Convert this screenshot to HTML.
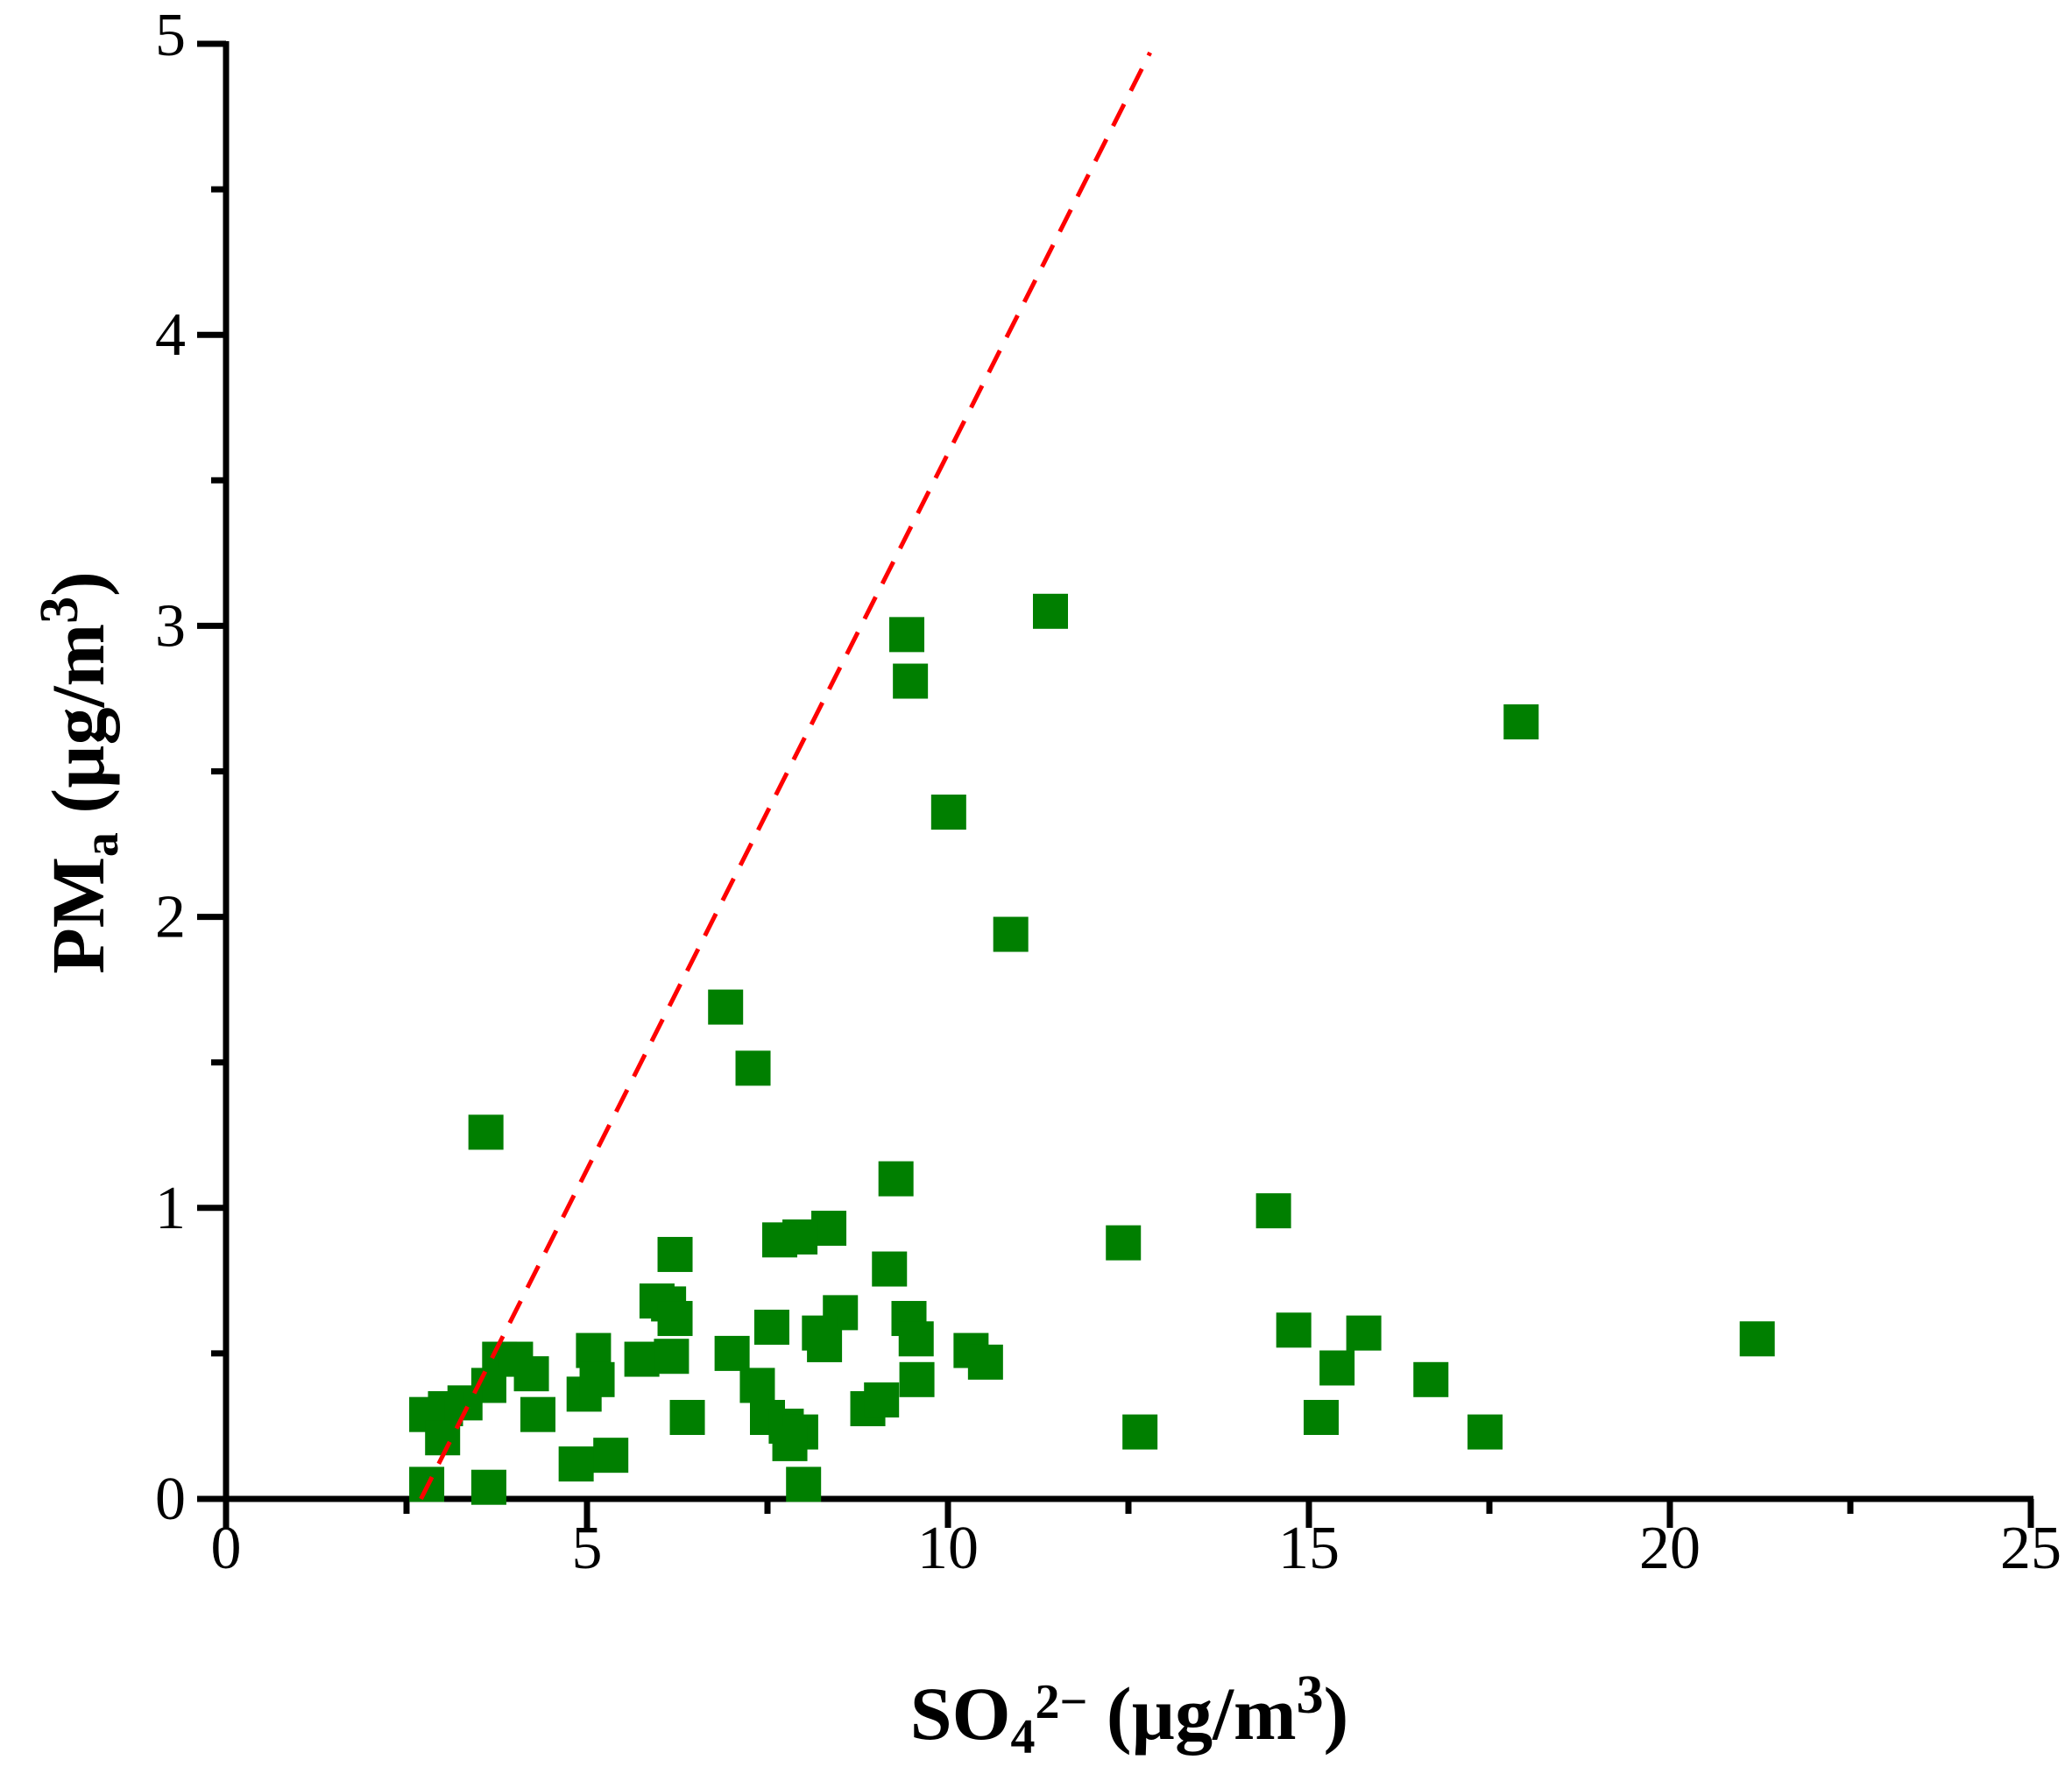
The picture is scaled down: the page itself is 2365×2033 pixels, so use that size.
<!DOCTYPE html>
<html><head><meta charset="utf-8"><style>
html,body{margin:0;padding:0;background:#fff;}
svg{display:block;font-family:"Liberation Serif",serif;}
</style></head><body>
<svg id="chart" width="2365" height="2033" viewBox="0 0 2365 2033" xmlns="http://www.w3.org/2000/svg">
<g id="axes"></g>
<g id="marks"></g>
<text x="1289" y="1985" font-size="86" font-weight="bold" text-anchor="middle">SO<tspan font-size="56" dy="16">4</tspan><tspan font-size="56" dy="-40">2−</tspan><tspan dy="24"> (µg/m</tspan><tspan font-size="62" dy="-30">3</tspan><tspan dy="30">)</tspan></text>
<text transform="translate(118,882) rotate(-90)" font-size="86" font-weight="bold" text-anchor="middle">PM<tspan font-size="56" dy="16">a</tspan><tspan dy="-16"> (µg/m</tspan><tspan font-size="62" dy="-30">3</tspan><tspan dy="30">)</tspan></text>
</svg>
<script>
const xs = [3.6,6.92,7.3,9.43,9.48,11.42,10.01,10.87,17.94,9.28,14.51,12.43,8.35,7.95,7.67,6.22,9.19,5.97,6.13,6.22,8.51,9.46,7.56,14.79,15.76,21.21,8.22,8.29,9.56,10.32,10.52,9.57,7.01,5.09,5.76,6.17,3.79,4.01,4.23,3.64,4.96,5.14,7.36,15.39,16.69,4.32,3.31,3.04,2.78,3.0,6.39,7.5,7.76,7.96,7.81,8.89,9.08,15.17,12.66,17.44,4.85,5.33,2.78,3.64,8.0];
const ys = [1.26,1.69,1.48,2.97,2.81,3.05,2.36,1.94,2.67,1.10,0.99,0.88,0.93,0.90,0.89,0.84,0.79,0.68,0.67,0.62,0.64,0.62,0.59,0.58,0.57,0.55,0.57,0.53,0.55,0.51,0.47,0.41,0.50,0.51,0.48,0.49,0.48,0.48,0.43,0.39,0.36,0.41,0.39,0.45,0.41,0.29,0.33,0.31,0.29,0.21,0.28,0.28,0.25,0.23,0.19,0.31,0.34,0.28,0.23,0.23,0.12,0.15,0.05,0.04,0.05];
const lineX = [2.7,12.8];
const lineY = [0,4.97];
const xTicks = [0,5,10,15,20,25];
const yTicks = [0,1,2,3,4,5];
const xMinor = [2.5,7.5,12.5,17.5,22.5];
const yMinor = [0.5,1.5,2.5,3.5,4.5];

const NS="http://www.w3.org/2000/svg";
const X0=258,X1=2318,Y0=1711,Y1=50;
function sx(v){return X0+(X1-X0)*v/25;}
function sy(v){return Y0-(Y0-Y1)*v/5;}
function mk(tag,attrs,parent){const e=document.createElementNS(NS,tag);for(const k in attrs)e.setAttribute(k,attrs[k]);parent.appendChild(e);return e;}
const axes=document.getElementById('axes'),marks=document.getElementById('marks');
let a=mk('line',{x1:X0,y1:Y0,x2:X1+3,y2:Y0,stroke:'#000','stroke-width':7},axes);


a=mk('line',{x1:X0,y1:Y0+3,x2:X0,y2:Y1-3,stroke:'#000','stroke-width':7},axes);


mk('line',{x1:X0-33,y1:Y1,x2:X0,y2:Y1,stroke:'#000','stroke-width':7},axes);
xTicks.forEach(v=>{
  const t=mk('line',{x1:sx(v),y1:Y0,x2:sx(v),y2:Y0+33,stroke:'#000','stroke-width':7},axes);
  
  
  const l=mk('text',{x:sx(v),y:1790,'font-size':70,'text-anchor':'middle'},axes);
  l.textContent=v;
  
  
});
xMinor.forEach(v=>{mk('line',{x1:sx(v),y1:Y0,x2:sx(v),y2:Y0+17,stroke:'#000','stroke-width':7},axes);});
yTicks.forEach(v=>{
  const t=mk('line',{x1:X0-33,y1:sy(v),x2:X0,y2:sy(v),stroke:'#000','stroke-width':7},axes);
  
  
  const l=mk('text',{x:212,y:sy(v)+(v===5?-10:0)+23,'font-size':70,'text-anchor':'end'},axes);
  l.textContent=v;
  
  
});
yMinor.forEach(v=>{mk('line',{x1:X0-17,y1:sy(v),x2:X0,y2:sy(v),stroke:'#000','stroke-width':7},axes);});
const S=40;
xs.forEach((x,i)=>{
  const r=mk('rect',{x:sx(x)-S/2,y:sy(ys[i])-S/2,width:S,height:S,fill:'#007f00'},marks);
  
  
});
const ln=mk('line',{x1:sx(lineX[0]),y1:sy(lineY[0]),x2:sx(lineX[1]),y2:sy(lineY[1]),stroke:'#ff0000','stroke-width':5,'stroke-dasharray':'28 17'},marks);


</script>
</body></html>
